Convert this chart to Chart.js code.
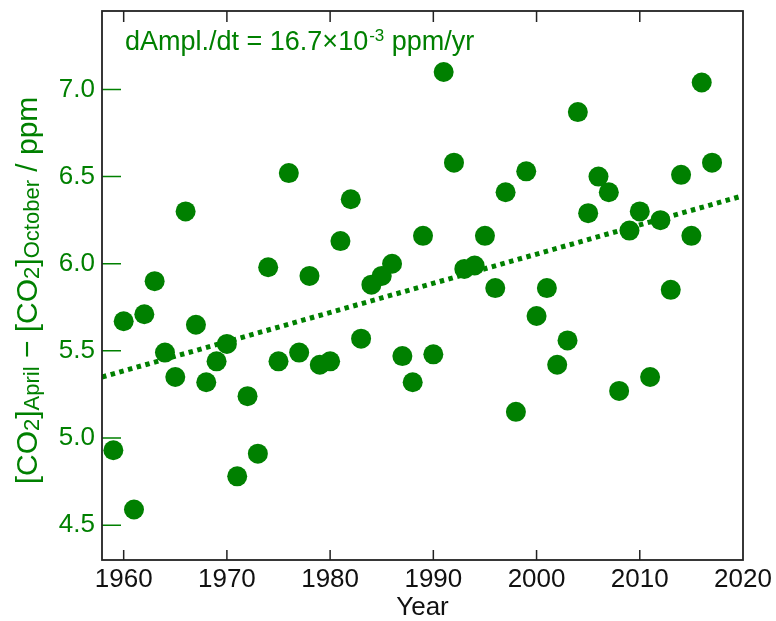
<!DOCTYPE html>
<html>
<head>
<meta charset="utf-8">
<script src="https://cdn.jsdelivr.net/npm/chart.js@4"></script>
<style>
  html, body { margin: 0; padding: 0; background: #fff; }
  canvas { display: block; }
</style>
</head>
<body>
<canvas id="chart" width="776" height="621"></canvas>
<script>
var years = [1959, 1960, 1961, 1962, 1963, 1964, 1965, 1966, 1967, 1968,
  1969, 1970, 1971, 1972, 1973, 1974, 1975, 1976, 1977, 1978,
  1979, 1980, 1981, 1982, 1983, 1984, 1985, 1986, 1987, 1988,
  1989, 1990, 1991, 1992, 1993, 1994, 1995, 1996, 1997, 1998,
  1999, 2000, 2001, 2002, 2003, 2004, 2005, 2006, 2007, 2008,
  2009, 2010, 2011, 2012, 2013, 2014, 2015, 2016, 2017];
var amplitude = [4.93, 5.67, 4.59, 5.71, 5.90, 5.49, 5.35, 6.30, 5.65, 5.32,
  5.44, 5.54, 4.78, 5.24, 4.91, 5.98, 5.44, 6.52, 5.49, 5.93,
  5.42, 5.44, 6.13, 6.37, 5.57, 5.88, 5.93, 6.00, 5.47, 5.32,
  6.16, 5.48, 7.10, 6.58, 5.97, 5.99, 6.16, 5.86, 6.41, 5.15,
  6.53, 5.70, 5.86, 5.42, 5.56, 6.87, 6.29, 6.50, 6.41, 5.27,
  6.19, 6.30, 5.35, 6.25, 5.85, 6.51, 6.16, 7.04, 6.58];

// trend line end points
var fitYears = [1957.9, 2020];
var fitAmplitude = [5.35, 6.39];

var xTickYears = [1960, 1970, 1980, 1990, 2000, 2010, 2020];
var yTickValues = [4.5, 5.0, 5.5, 6.0, 6.5, 7.0];

var green = 'rgb(0,128,0)';
var fontFamily = '"Liberation Sans", Arial, Helvetica, sans-serif';

function pairs(xs, ys) {
  var out = [];
  for (var i = 0; i < xs.length; i++) out.push({ x: xs[i], y: ys[i] });
  return out;
}

var framePlugin = {
  id: 'framePlugin',
  afterDraw: function (chart) {
    var ctx = chart.ctx;
    var area = chart.chartArea;
    var xs = chart.scales.x;
    var ys = chart.scales.y;
    var i, px, py;

    ctx.save();
    // x ticks, top and bottom, pointing inward
    ctx.strokeStyle = '#222';
    ctx.lineWidth = 1.5;
    ctx.beginPath();
    for (i = 0; i < xTickYears.length; i++) {
      px = xs.getPixelForValue(xTickYears[i]);
      if (px <= area.left + 1 || px >= area.right - 1) continue;
      ctx.moveTo(px, area.top);
      ctx.lineTo(px, area.top + 11);
      ctx.moveTo(px, area.bottom);
      ctx.lineTo(px, area.bottom - 10);
    }
    ctx.stroke();

    // y ticks on the left, green
    ctx.strokeStyle = green;
    ctx.beginPath();
    for (i = 0; i < yTickValues.length; i++) {
      py = ys.getPixelForValue(yTickValues[i]);
      ctx.moveTo(area.left, py);
      ctx.lineTo(area.left + 19, py);
    }
    ctx.stroke();

    // frame
    ctx.strokeStyle = '#222';
    ctx.lineWidth = 1.8;
    ctx.strokeRect(area.left, area.top, area.right - area.left, area.bottom - area.top);

    // slope annotation
    ctx.fillStyle = green;
    ctx.textBaseline = 'alphabetic';
    ctx.textAlign = 'left';
    var tx = 125, ty = 50;
    ctx.font = '27px ' + fontFamily;
    var part1 = 'dAmpl./dt = 16.7\u00d710';
    ctx.fillText(part1, tx, ty);
    tx += ctx.measureText(part1).width;
    ctx.font = '17px ' + fontFamily;
    ctx.fillText('-3', tx + 1, ty - 9);
    tx += ctx.measureText('-3').width + 1;
    ctx.font = '27px ' + fontFamily;
    ctx.fillText(' ppm/yr', tx, ty);

    // x axis title
    ctx.fillStyle = '#111';
    ctx.textAlign = 'center';
    ctx.font = '26px ' + fontFamily;
    ctx.fillText('Year', (area.left + area.right) / 2, 615);

    // y axis title with subscripts
    var parts = [
      { t: '[CO', sub: false }, { t: '2', sub: true }, { t: ']', sub: false },
      { t: 'April', sub: true }, { t: ' \u2212 [CO', sub: false }, { t: '2', sub: true },
      { t: ']', sub: false }, { t: 'October', sub: true }, { t: ' / ppm', sub: false }
    ];
    var mainFont = '30px ' + fontFamily;
    var subFont = '22px ' + fontFamily;
    var total = 0;
    for (i = 0; i < parts.length; i++) {
      ctx.font = parts[i].sub ? subFont : mainFont;
      parts[i].w = ctx.measureText(parts[i].t).width;
      total += parts[i].w;
    }
    ctx.translate(37, (area.top + area.bottom) / 2 + 5);
    ctx.rotate(-Math.PI / 2);
    ctx.fillStyle = green;
    ctx.textAlign = 'left';
    var cx = -total / 2;
    for (i = 0; i < parts.length; i++) {
      ctx.font = parts[i].sub ? subFont : mainFont;
      ctx.fillText(parts[i].t, cx, parts[i].sub ? 2 : 0);
      cx += parts[i].w;
    }
    ctx.restore();
  }
};

new Chart(document.getElementById('chart'), {
  type: 'scatter',
  data: {
    datasets: [
      {
        label: 'trend',
        type: 'line',
        data: pairs(fitYears, fitAmplitude),
        borderColor: green,
        borderWidth: 5,
        borderDash: [4.5, 4.5],
        borderCapStyle: 'butt',
        pointRadius: 0,
        fill: false,
        order: 2
      },
      {
        label: 'amplitude',
        data: pairs(years, amplitude),
        backgroundColor: green,
        borderColor: green,
        borderWidth: 0,
        pointRadius: 10,
        pointHoverRadius: 10,
        clip: false,
        order: 1
      }
    ]
  },
  options: {
    responsive: false,
    animation: false,
    events: [],
    layout: { padding: { left: 0, top: 11, right: 33, bottom: 0 } },
    plugins: { legend: { display: false }, tooltip: { enabled: false } },
    scales: {
      x: {
        type: 'linear',
        min: 1957.9,
        max: 2020,
        afterFit: function (scale) {
          scale.height = 61;
          scale.paddingLeft = 0;
          scale.paddingRight = 0;
        },
        afterBuildTicks: function (scale) {
          scale.ticks = xTickYears.map(function (v) { return { value: v }; });
        },
        grid: { display: false, drawTicks: false },
        border: { display: false },
        ticks: {
          padding: 4,
          color: '#111',
          font: { family: fontFamily, size: 26 },
          maxRotation: 0,
          callback: function (v) { return String(v); }
        }
      },
      y: {
        type: 'linear',
        min: 4.3,
        max: 7.45,
        afterFit: function (scale) {
          scale.width = 102;
          scale.paddingTop = 0;
          scale.paddingBottom = 0;
        },
        afterBuildTicks: function (scale) {
          scale.ticks = yTickValues.map(function (v) { return { value: v }; });
        },
        grid: { display: false, drawTicks: false },
        border: { display: false },
        ticks: {
          padding: 7,
          color: green,
          font: { family: fontFamily, size: 26 },
          callback: function (v) { return Number(v).toFixed(1); }
        }
      }
    }
  },
  plugins: [framePlugin]
});
</script>
</body>
</html>
